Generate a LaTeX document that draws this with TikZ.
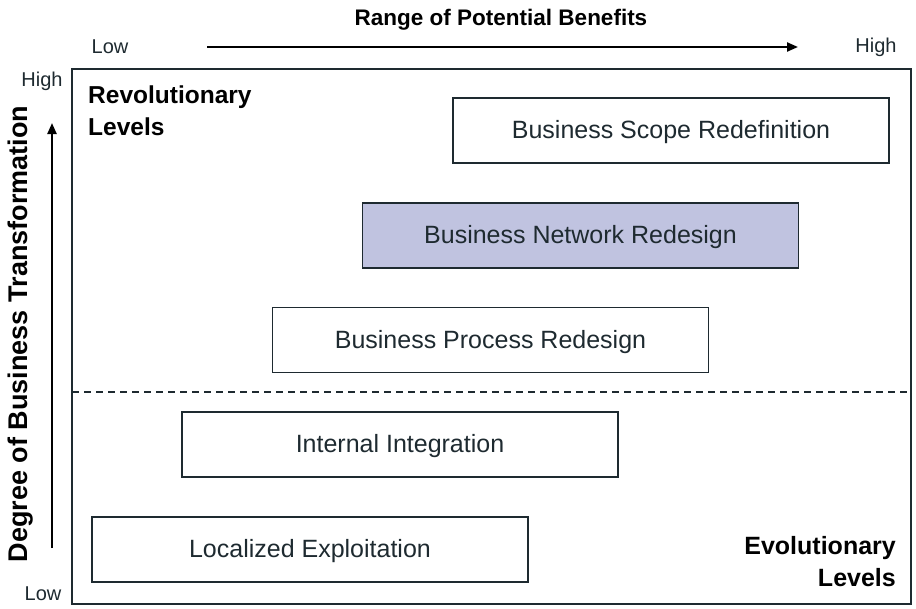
\documentclass[tikz,border=0pt]{standalone}
\usepackage{fontspec}
\setmainfont{Liberation Sans}
\usetikzlibrary{arrows.meta}
\definecolor{boxline}{HTML}{1E2A30}
\definecolor{lav}{HTML}{C0C3E0}
\begin{document}
\begin{tikzpicture}[x=1pt,y=-1pt,
  lvl/.style={draw=boxline,line width=1.8pt,minimum width=436pt,minimum height=65pt,inner sep=0pt,text depth=2pt,font=\fontsize{25}{30}\selectfont,text=boxline},
  axl/.style={font=\fontsize{20}{24}\selectfont,text=boxline,inner sep=0pt},
  bigl/.style={font=\fontsize{24.5}{32}\selectfont\bfseries,text=black,inner sep=0pt},
  arr/.style={line width=2.2pt,-{Triangle[length=11pt,width=9pt]}}]
\useasboundingbox (0,0) rectangle (916,608);
\node[draw=boxline,line width=1.8pt,minimum width=839pt,minimum height=535pt,inner sep=0pt] (frame) at (491.5,336.5) {};
\node[bigl,font=\fontsize{22.5}{28}\selectfont\bfseries] (title) at (501,20) {Range of Potential Benefits};
\node[axl] (xlow) at (110,47) {Low};
\node[axl] (xhigh) at (876,47) {High};
\coordinate (xs) at (207,47);
\coordinate (xe) at (798,47);
\draw[arr] (xs) -- (xe);
\node[axl] (yhigh) at (42,81) {High};
\node[axl] (ylow) at (43,594) {Low};
\coordinate (ys) at (52,548);
\coordinate (ye) at (52,123);
\draw[arr] (ys) -- (ye);
\node[bigl,font=\fontsize{27}{32}\selectfont\bfseries,rotate=90] (ytitle) at (21,334) {Degree of Business Transformation};
\coordinate (dl) at (72,392);
\coordinate (dr) at (911,392);
\draw[boxline,line width=1.8pt,dash pattern=on 7pt off 5pt] (dl) -- (dr);
\node[lvl] (bsr) at (671,130.5) {Business Scope Redefinition};
\node[lvl,fill=lav] (bnr) at (580.5,235.5) {Business Network Redesign};
\node[lvl] (bpr) at (490.5,340) {Business Process Redesign};
\node[lvl] (ii) at (400,444.5) {Internal Integration};
\node[lvl] (le) at (310,549.5) {Localized Exploitation};
\node[bigl,align=left,anchor=north west] (rev) at (88,86) {Revolutionary\\Levels};
\node[bigl,font=\fontsize{25}{32}\selectfont\bfseries,align=right,anchor=south east] (evo) at (896,587) {Evolutionary\\Levels};
\end{tikzpicture}
\end{document}
